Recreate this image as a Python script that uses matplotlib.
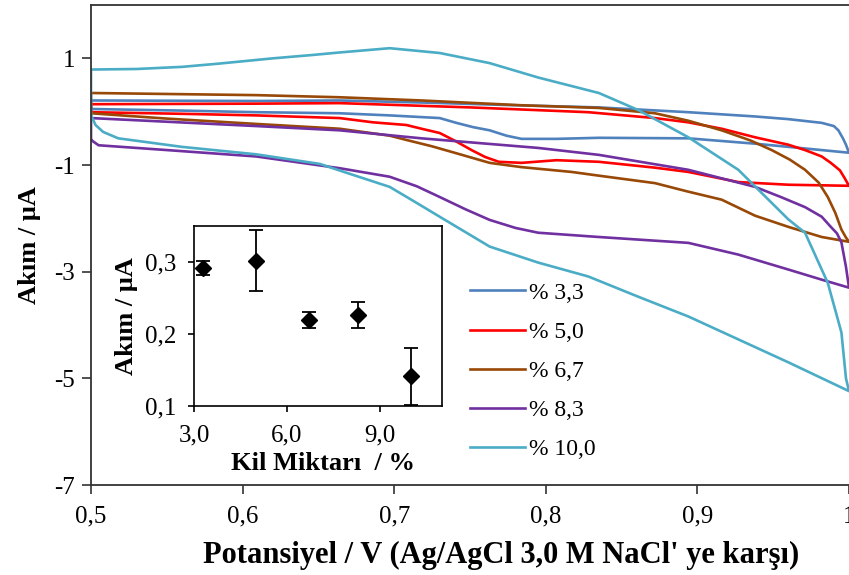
import matplotlib
matplotlib.use("Agg")
import matplotlib.pyplot as plt
from matplotlib.ticker import FixedLocator, FixedFormatter

plt.rcParams["font.family"] = ["Liberation Serif", "DejaVu Serif"]

# Cyclic voltammograms: forward (lower) and reverse (upper) branches, potential in V, current in uA
labels = ["% 3,3", "% 5,0", "% 6,7", "% 8,3", "% 10,0"]
colors = ["#4F81BD", "#FF0000", "#984807", "#7030A0", "#4BACC6"]

v_low_33 = [0.500, 0.560, 0.609, 0.664, 0.697, 0.730, 0.741, 0.752, 0.763, 0.774, 0.784, 0.807, 0.835, 0.894, 0.938, 0.960, 1.000]
i_low_33 = [0.05, 0.02, -0.01, -0.03, -0.07, -0.12, -0.21, -0.29, -0.35, -0.45, -0.51, -0.51, -0.49, -0.50, -0.60, -0.66, -0.77]
v_up_33 = [0.500, 0.609, 0.664, 0.720, 0.780, 0.835, 0.894, 0.938, 0.960, 0.982, 0.990, 0.993, 0.996, 0.998, 1.000]
i_up_33 = [0.21, 0.20, 0.21, 0.17, 0.12, 0.08, -0.01, -0.09, -0.14, -0.21, -0.27, -0.35, -0.50, -0.62, -0.77]

v_low_50 = [0.500, 0.560, 0.609, 0.664, 0.686, 0.708, 0.718, 0.730, 0.741, 0.751, 0.760, 0.769, 0.784, 0.807, 0.835, 0.872, 0.894, 0.927, 0.960, 1.000]
i_low_50 = [-0.01, -0.04, -0.07, -0.12, -0.20, -0.25, -0.32, -0.40, -0.56, -0.72, -0.85, -0.94, -0.96, -0.91, -0.94, -1.05, -1.13, -1.32, -1.37, -1.39]
v_up_50 = [0.500, 0.609, 0.664, 0.750, 0.828, 0.872, 0.894, 0.916, 0.938, 0.960, 0.971, 0.982, 0.988, 0.994, 0.997, 1.000]
i_up_50 = [0.14, 0.15, 0.16, 0.08, -0.01, -0.12, -0.20, -0.32, -0.48, -0.62, -0.72, -0.84, -0.96, -1.10, -1.24, -1.39]

v_low_67 = [0.500, 0.550, 0.609, 0.664, 0.697, 0.708, 0.725, 0.741, 0.763, 0.784, 0.817, 0.835, 0.872, 0.894, 0.916, 0.938, 0.960, 0.982, 1.000]
i_low_67 = [-0.03, -0.13, -0.23, -0.32, -0.45, -0.53, -0.65, -0.78, -0.96, -1.04, -1.13, -1.20, -1.34, -1.50, -1.65, -1.95, -2.16, -2.35, -2.44]
v_up_67 = [0.500, 0.609, 0.664, 0.718, 0.784, 0.835, 0.872, 0.894, 0.916, 0.935, 0.949, 0.961, 0.971, 0.980, 0.986, 0.991, 0.995, 0.998, 1.000]
i_up_67 = [0.35, 0.31, 0.27, 0.21, 0.12, 0.07, -0.03, -0.17, -0.35, -0.54, -0.72, -0.90, -1.09, -1.33, -1.60, -1.90, -2.21, -2.36, -2.44]

v_low_83 = [0.500, 0.505, 0.550, 0.609, 0.664, 0.697, 0.715, 0.730, 0.747, 0.763, 0.780, 0.795, 0.835, 0.894, 0.927, 0.960, 0.982, 1.000]
i_low_83 = [-0.53, -0.63, -0.72, -0.84, -1.06, -1.22, -1.40, -1.60, -1.83, -2.03, -2.18, -2.27, -2.35, -2.46, -2.68, -2.96, -3.15, -3.30]
v_up_83 = [0.500, 0.609, 0.664, 0.718, 0.795, 0.835, 0.894, 0.938, 0.955, 0.971, 0.982, 0.988, 0.992, 0.995, 0.998, 1.000]
i_up_83 = [-0.12, -0.27, -0.35, -0.50, -0.68, -0.81, -1.09, -1.41, -1.60, -1.79, -1.97, -2.16, -2.28, -2.45, -2.91, -3.30]

v_low_100 = [0.500, 0.503, 0.508, 0.518, 0.560, 0.609, 0.651, 0.669, 0.697, 0.713, 0.730, 0.763, 0.795, 0.828, 0.861, 0.894, 0.927, 0.960, 1.000]
i_low_100 = [-0.07, -0.25, -0.38, -0.50, -0.66, -0.80, -0.98, -1.15, -1.41, -1.68, -1.97, -2.53, -2.83, -3.09, -3.47, -3.84, -4.27, -4.70, -5.24]
v_up_100 = [0.500, 0.530, 0.560, 0.584, 0.620, 0.645, 0.664, 0.697, 0.730, 0.763, 0.795, 0.835, 0.861, 0.894, 0.927, 0.949, 0.960, 0.971, 0.986, 0.995, 0.998, 1.000]
i_up_100 = [0.79, 0.80, 0.84, 0.90, 1.00, 1.06, 1.11, 1.19, 1.10, 0.91, 0.64, 0.35, 0.03, -0.48, -1.09, -1.71, -2.02, -2.27, -3.21, -4.14, -5.00, -5.24]

branches = [
    (v_low_33, i_low_33, v_up_33, i_up_33),
    (v_low_50, i_low_50, v_up_50, i_up_50),
    (v_low_67, i_low_67, v_up_67, i_up_67),
    (v_low_83, i_low_83, v_up_83, i_up_83),
    (v_low_100, i_low_100, v_up_100, i_up_100),
]

# Inset: peak current versus clay content
clay = [3.3, 5.0, 6.7, 8.3, 10.0]
peak_current = [0.292, 0.302, 0.219, 0.227, 0.141]
peak_err = [0.010, 0.042, 0.011, 0.018, 0.040]

x_ticks = [0.5, 0.6, 0.7, 0.8, 0.9, 1.0]
x_ticklabels = ["0,5", "0,6", "0,7", "0,8", "0,9", "1"]
y_ticks = [1, -1, -3, -5, -7]
y_ticklabels = ["1", "-1", "-3", "-5", "-7"]
inset_xticks = [3.0, 6.0, 9.0]
inset_xticklabels = ["3,0", "6,0", "9,0"]
inset_yticks = [0.1, 0.2, 0.3]
inset_yticklabels = ["0,1", "0,2", "0,3"]

W, H = 849, 575
fig = plt.figure(figsize=(W / 100, H / 100), dpi=100)
ax = fig.add_axes([91 / W, 1 - 485 / H, 758 / W, 480 / H])

for (vl, il, vu, iu), c, lab in zip(branches, colors, labels):
    v = list(vl) + list(vu[::-1]) + [vl[0]]
    i = list(il) + list(iu[::-1]) + [il[0]]
    ax.plot(v, i, color=c, lw=1.9, label=lab, solid_joinstyle="round")

ax.set_xlim(0.5, 1.0)
ax.set_ylim(-7, 2)
ax.xaxis.set_major_locator(FixedLocator(x_ticks))
ax.xaxis.set_major_formatter(FixedFormatter(x_ticklabels))
ax.yaxis.set_major_locator(FixedLocator(y_ticks))
ax.yaxis.set_major_formatter(FixedFormatter(y_ticklabels))
ax.tick_params(axis="x", direction="out", length=6.5, width=1.2, labelsize=18, colors="#333333", labelcolor="black", pad=8.5)
ax.tick_params(axis="y", direction="out", length=6.5, width=1.2, labelsize=18, colors="#333333", labelcolor="black", pad=5)
for s in ax.spines.values():
    s.set_color("#333333")
    s.set_linewidth(1.3)
ax.spines["right"].set_visible(False)

ax.set_xlabel("Potansiyel / V (Ag/AgCl 3,0 M NaCl' ye karşı)", fontsize=22, fontweight="bold")
ax.xaxis.set_label_coords((501 - 91) / 758, (485 - 541) / 480)
ax.set_ylabel("Akım / μA", fontsize=19, fontweight="bold")
ax.yaxis.set_label_coords((41 - 91) / 758, 0.5)

leg = ax.legend(loc="upper left", bbox_to_anchor=(470 / W, 1 - 282 / H), bbox_transform=fig.transFigure,
                frameon=False, fontsize=17, handlelength=2.35, handletextpad=0.13,
                labelspacing=0.75, borderpad=0, borderaxespad=0)

# Inset
ins = fig.add_axes([194 / W, 1 - 406 / H, 248 / W, 180 / H])
ins.set_facecolor("white")
ins.errorbar(clay, peak_current, yerr=peak_err, fmt="D", color="black", ms=8.5,
             ecolor="black", elinewidth=1.3, capsize=5, capthick=1.3, clip_on=False, zorder=3)
ins.set_xlim(3.0, 11.0)
ins.set_ylim(0.1, 0.35)
ins.xaxis.set_major_locator(FixedLocator(inset_xticks))
ins.xaxis.set_major_formatter(FixedFormatter(inset_xticklabels))
ins.yaxis.set_major_locator(FixedLocator(inset_yticks))
ins.yaxis.set_major_formatter(FixedFormatter(inset_yticklabels))
ins.tick_params(axis="x", direction="out", length=4, width=1.2, labelsize=18, pad=9)
ins.tick_params(axis="y", direction="out", length=4, width=1.2, labelsize=18, pad=9)
for s in ins.spines.values():
    s.set_color("black")
    s.set_linewidth(1.2)
ins.set_xlabel("Kil Miktarı  / %", fontsize=19, fontweight="bold")
ins.xaxis.set_label_coords(0.52, (406 - 452) / 180)
ins.set_ylabel("Akım / μA", fontsize=19, fontweight="bold")
ins.yaxis.set_label_coords((138 - 194) / 248, 0.5)

fig.savefig("out.png", dpi=100)
